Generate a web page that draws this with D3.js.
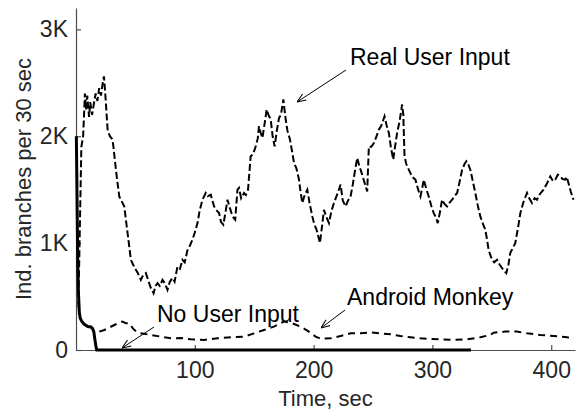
<!DOCTYPE html>
<html>
<head>
<meta charset="utf-8">
<script src="https://cdn.jsdelivr.net/npm/d3@7"></script>
<style>
  body { margin: 0; background: #fff; }
  svg { display: block; font-family: "Liberation Sans", Arial, Helvetica, sans-serif; }
  .tick text { fill: #262626; font-size: 23px; }
  .axis-label { fill: #262626; font-size: 22px; }
  .note { fill: #000; font-size: 23px; }
</style>
</head>
<body>
<svg id="chart" width="581" height="416"></svg>
<script>
// values (time in sec, ind. branches per 30 sec)
const realTime = [2, 3, 4.5, 6, 7.5, 8.5, 9.5, 11, 12, 13.5, 15, 16.5, 18, 19.5, 21, 22.5, 23.5, 24.5, 26.6, 28.5,
  30.8, 32, 33.6, 35, 36.4, 40.6, 43.4, 46.2, 48, 50.4, 52, 54.6, 56.5, 58.8, 60, 61.6, 63, 65.3, 67, 68.6,
  70.5, 72.8, 75, 77, 79, 81.2, 83, 85.4, 87.5, 89.6, 91.5, 93.9, 96, 98, 100, 102.3, 104, 106.4, 109.2, 111,
  113.4, 116.2, 118, 120.4, 122, 124, 126, 127.5, 129.5, 131.7, 134, 135.9, 137.2, 139, 141.4, 143, 144.8, 147, 149, 151.3,
  153, 154, 155.5, 156.9, 158.5, 160.5, 162, 163.9, 165.5, 167.2, 169, 170.9, 172.5, 174.5, 176.5, 178, 180.1, 182, 183.5, 185.5,
  187.7, 189, 190.5, 192.5, 194.7, 196.5, 198.9, 200.5, 202.5, 204, 205.3, 207, 208.7, 210.5, 212.9, 215, 217.1, 220, 222.7, 224.5,
  226.9, 229, 231.1, 233, 234.5, 236.7, 238.5, 240.9, 243, 245.1, 246.5, 248.5, 250.7, 253, 254.9, 257, 259.7, 261.5, 263.3, 265,
  267, 268.5, 270.3, 272.5, 274.5, 275.5, 276.5, 278, 280.1, 283, 285.7, 288, 289.9, 291.5, 292.7, 295, 296.9, 299, 301.1, 303,
  304.5, 306.5, 308.1, 310, 312.3, 314.5, 316.6, 318.5, 320.8, 323, 325, 327, 328.6, 330, 331.9, 334, 336.1, 338, 340.3, 342.5,
  344.5, 346, 347.3, 349, 350.2, 352, 354.4, 356.5, 358.6, 360.5, 362.2, 364, 365.5, 367.5, 369.7, 372, 374, 376.5, 379.6, 381.5,
  383.8, 386, 388, 390.5, 393.5, 396.5, 399.2, 401.5, 403.4, 405.5, 407.6, 409.5, 411.8, 413, 414.5, 416.5, 418.7];
const realBranches = [400, 1000, 1900, 2000, 2400, 2250, 2380, 2180, 2320, 2200, 2300, 2400, 2330, 2450, 2380, 2500, 2560, 2420, 2062, 2000,
  1969, 1850, 1687, 1560, 1437, 1344, 1094, 844, 800, 750, 720, 656, 700, 719, 680, 625, 580, 531, 600, 625,
  600, 656, 620, 562, 640, 675, 640, 781, 760, 844, 820, 937, 980, 1031, 1100, 1187, 1300, 1406, 1469, 1440,
  1453, 1344, 1310, 1281, 1200, 1172, 1300, 1406, 1330, 1250, 1219, 1500, 1516, 1420, 1469, 1450, 1500, 1812, 1830, 1906,
  1980, 2094, 2030, 1984, 2100, 2250, 2200, 2156, 2000, 1906, 2050, 2172, 2200, 2344, 2156, 2050, 1969, 1850, 1750, 1700,
  1594, 1480, 1375, 1450, 1500, 1380, 1250, 1180, 1125, 1060, 1000, 1150, 1312, 1250, 1187, 1300, 1375, 1460, 1547, 1400,
  1344, 1400, 1437, 1550, 1656, 1797, 1720, 1640, 1560, 1484, 1906, 1900, 1937, 2000, 2062, 2100, 2187, 2100, 2031, 1900,
  1781, 1900, 2031, 2150, 2297, 2200, 1812, 1740, 1687, 1620, 1594, 1500, 1437, 1520, 1594, 1500, 1437, 1350, 1281, 1240,
  1187, 1300, 1406, 1370, 1344, 1380, 1406, 1440, 1469, 1580, 1687, 1740, 1766, 1740, 1687, 1580, 1469, 1360, 1250, 1180,
  1125, 1030, 937, 880, 844, 820, 844, 800, 766, 740, 719, 800, 906, 950, 1000, 1140, 1281, 1380, 1469, 1420,
  1375, 1420, 1406, 1460, 1500, 1560, 1625, 1580, 1594, 1640, 1625, 1600, 1594, 1620, 1562, 1480, 1406];

const monkeyTime = [19.6, 23.8, 28, 32.2, 36, 39.2, 42, 44.8, 48, 51, 54.6, 63, 71.4, 79.8, 88, 96.6, 107.8, 119, 130.3, 141.4,
  149.8, 158.2, 166.6, 175, 182, 189, 196, 201.7, 205.9, 214.3, 222.7, 231.1, 239.5, 247.9, 256.3, 264.7, 273.1, 281.5, 289.9, 298.3,
  306.7, 317.9, 329.1, 340.3, 348.7, 351.5, 361.3, 371.1, 379.6, 390.8, 402, 413.2, 418.7];
const monkeyBranches = [172, 187, 210, 234, 255, 266, 250, 250, 200, 170, 156, 141, 125, 109, 112, 100, 94, 109, 119, 125,
  156, 187, 219, 266, 250, 219, 172, 125, 105, 109, 131, 156, 156, 166, 156, 147, 131, 119, 109, 103,
  100, 94, 100, 119, 141, 162, 172, 172, 156, 141, 131, 119, 109];

const noInputTime = [0.3, 1, 1.5, 2, 2.8, 3.5, 4.8, 7, 10, 12.5, 14, 15, 16, 17, 17.5, 332.5];
const noInputBranches = [2000, 1300, 800, 550, 350, 300, 270, 240, 220, 215, 200, 170, 90, 20, 0, 0];

const xTicks = [100, 200, 300, 400];
const yTicks = [0, 1000, 2000, 3000];
const yTickLabels = ["0", "1K", "2K", "3K"];

const svg = d3.select("#chart");
const margin = { left: 76, right: 6, top: 8, bottom: 66 };
const width = 581, height = 416;

const x = d3.scaleLinear().domain([0, 420]).range([margin.left, width - margin.right]);
const y = d3.scaleLinear().domain([0, 3200]).range([height - margin.bottom, margin.top]);

const line = d3.line().x(d => x(d[0])).y(d => y(d[1]));
const zip = (ts, vs) => ts.map((t, i) => [t, vs[i]]);

// axes
const xAxis = svg.append("g").attr("transform", `translate(0,${y(0)})`)
  .call(d3.axisBottom(x).tickValues(xTicks).tickSizeInner(-5).tickSizeOuter(0).tickPadding(12));
const yAxis = svg.append("g").attr("transform", `translate(${x(0)},0)`)
  .call(d3.axisLeft(y).tickValues(yTicks).tickFormat((d, i) => yTickLabels[i]).tickSizeInner(-5).tickSizeOuter(0).tickPadding(8));
[xAxis, yAxis].forEach(g => {
  g.select(".domain").attr("stroke", "#4d4d4d").attr("stroke-width", 1.2);
  g.selectAll(".tick line").attr("stroke", "#4d4d4d").attr("stroke-width", 1.2);
});

svg.append("text").attr("class", "axis-label")
  .attr("x", (x(0) + x(420)) / 2).attr("y", 406).attr("text-anchor", "middle").text("Time, sec");
svg.append("text").attr("class", "axis-label")
  .attr("transform", `translate(31,${(y(0) + y(3200)) / 2}) rotate(-90)`)
  .attr("text-anchor", "middle").text("Ind. branches per 30 sec");

// series
svg.append("path").datum(zip(realTime, realBranches)).attr("d", line)
  .attr("fill", "none").attr("stroke", "#000").attr("stroke-width", 2).attr("stroke-dasharray", "7 3");
svg.append("path").datum(zip(monkeyTime, monkeyBranches)).attr("d", line)
  .attr("fill", "none").attr("stroke", "#000").attr("stroke-width", 2).attr("stroke-dasharray", "7 5");
svg.append("path").datum(zip(noInputTime, noInputBranches)).attr("d", line)
  .attr("fill", "none").attr("stroke", "#000").attr("stroke-width", 3);

// annotations with arrows
svg.append("defs").append("marker").attr("id", "arrow").attr("viewBox", "0 0 10 10")
  .attr("refX", 10).attr("refY", 5).attr("markerWidth", 9).attr("markerHeight", 9).attr("orient", "auto")
  .append("path").attr("d", "M0,1 L10,5 L0,9").attr("fill", "none").attr("stroke", "#000").attr("stroke-width", 1.2);

const notes = [
  { text: "Real User Input", tx: 350, ty: 65, from: [346, 70], to: [297, 102] },
  { text: "No User Input", tx: 157, ty: 322, from: [154, 327], to: [122, 348] },
  { text: "Android Monkey", tx: 347, ty: 305, from: [345, 310], to: [321, 328] }
];
notes.forEach(n => {
  svg.append("text").attr("class", "note").attr("x", n.tx).attr("y", n.ty).text(n.text);
  svg.append("line").attr("x1", n.from[0]).attr("y1", n.from[1]).attr("x2", n.to[0]).attr("y2", n.to[1])
    .attr("stroke", "#000").attr("stroke-width", 1).attr("marker-end", "url(#arrow)");
});
</script>
</body>
</html>
